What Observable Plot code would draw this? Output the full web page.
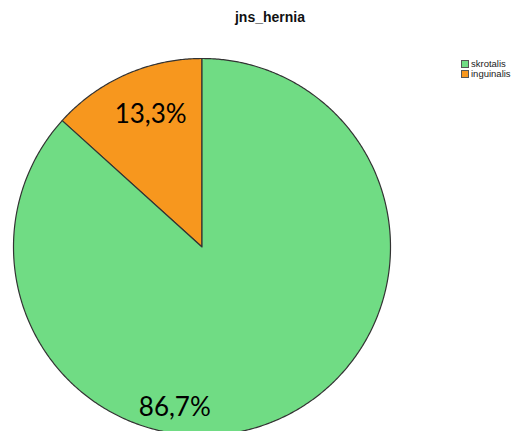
<!DOCTYPE html>
<html>
<head>
<meta charset="utf-8">
<script src="https://cdn.jsdelivr.net/npm/d3@7"></script>
<script src="https://cdn.jsdelivr.net/npm/@observablehq/plot@0.6"></script>
<style>
  html, body { margin: 0; padding: 0; background: #fff; }
  #wrap { position: relative; width: 514px; height: 431px; overflow: hidden; }
  #title { position: absolute; left: 0; width: 540px; top: 9px; text-align: center;
           font: bold 14px "Liberation Sans", Arial, sans-serif; color: #111; }
  #legend { position: absolute; left: 461px; top: 59px; font: 9.5px "Liberation Sans", Arial, sans-serif; color: #222; }
  .row { display: flex; align-items: center; height: 10px; line-height: 10px; }
  .sw { width: 6px; height: 6px; border: 1px solid #555; margin-right: 2px; box-sizing: content-box; }
</style>
</head>
<body>
<div id="wrap">
  <div id="title"></div>
  <div id="legend"></div>
</div>
<script>
const title = "jns_hernia";
const categories = ["skrotalis", "inguinalis"];
const percents = [86.7, 13.3];
const labels = ["86,7%", "13,3%"];
const colors = ["#70dc84", "#f7971e"];

document.getElementById("title").textContent = title;

// legend
const leg = document.getElementById("legend");
categories.forEach((c, i) => {
  const row = document.createElement("div");
  row.className = "row";
  const sw = document.createElement("div");
  sw.className = "sw";
  sw.style.background = colors[i];
  row.appendChild(sw);
  const t = document.createElement("span");
  t.textContent = c;
  row.appendChild(t);
  leg.appendChild(row);
});

// pie layout: inguinalis first, counter-clockwise from 12 o'clock
const order = [1, 0];
const arcs = d3.pie().sort(null).startAngle(0).endAngle(-2 * Math.PI)(order.map(i => percents[i]))
  .map((a, k) => ({...a, cat: categories[order[k]], color: colors[order[k]], label: labels[order[k]]}));

function slicePoints(a) {
  const pts = [{x: 0, y: 0}];
  const n = Math.max(2, Math.ceil(Math.abs(a.endAngle - a.startAngle) / (Math.PI / 360)));
  for (let j = 0; j <= n; j++) {
    const t = a.startAngle + (a.endAngle - a.startAngle) * j / n;
    pts.push({x: Math.sin(t), y: Math.cos(t)});
  }
  return pts;
}

const marks = arcs.map(a => Plot.line(slicePoints(a), {
  x: "x", y: "y", curve: "linear-closed", fill: a.color, stroke: "#333", strokeWidth: 1.2
}));

function labelPos(a, r) {
  const m = (a.startAngle + a.endAngle) / 2;
  return [{x: r * Math.sin(m), y: r * Math.cos(m), label: a.label}];
}
const ing = arcs.find(a => a.cat === "inguinalis");
const skr = arcs.find(a => a.cat === "skrotalis");
marks.push(Plot.text(labelPos(ing, 0.75), {x: "x", y: "y", text: "label", fontSize: 26, fill: "#000", dx: 6, dy: -3, fontFamily: "Lato, 'Open Sans', sans-serif"}));
marks.push(Plot.text(labelPos(skr, 0.86), {x: "x", y: "y", text: "label", fontSize: 26, fill: "#000", dx: -93, dy: 13, fontFamily: "Lato, 'Open Sans', sans-serif"}));

const chart = Plot.plot({
  width: 514,
  height: 431,
  margin: 0,
  x: {domain: [-1, 1], range: [13, 390], axis: null},
  y: {domain: [-1, 1], range: [435, 58], axis: null},
  style: {background: "transparent", overflow: "hidden"},
  marks
});
chart.style.position = "absolute";
chart.style.left = "0";
chart.style.top = "0";
document.getElementById("wrap").insertBefore(chart, document.getElementById("title"));
</script>
</body>
</html>
